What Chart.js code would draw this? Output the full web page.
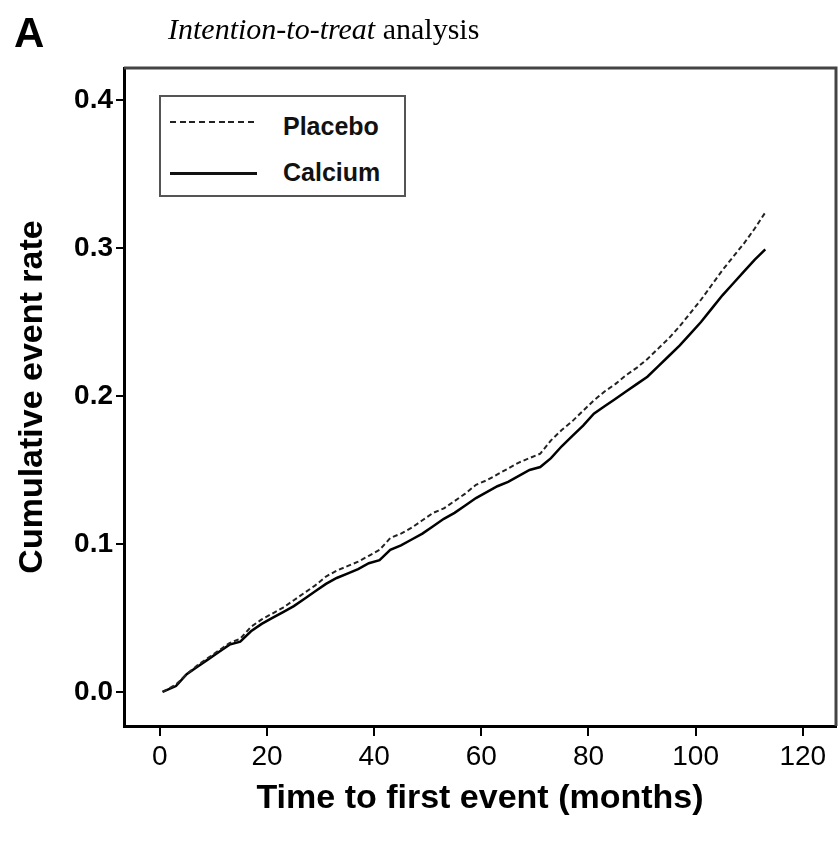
<!DOCTYPE html>
<html>
<head>
<meta charset="utf-8">
<script src="https://cdn.jsdelivr.net/npm/chart.js@4.4.0/dist/chart.umd.min.js"></script>
<style>
    html, body { margin: 0; padding: 0; background: #fff; }
    #wrap { position: relative; width: 838px; height: 843px; }
    #panel { position: absolute; left: 14px; top: 9px; font: bold 42px "Liberation Sans", Arial, sans-serif; color: #000; }
    #title { position: absolute; left: 168px; top: 12px; font: 30px "Liberation Serif", "Times New Roman", serif; color: #000; white-space: nowrap; }
    #legend { position: absolute; left: 159px; top: 95px; width: 243px; height: 98px; border: 2px solid #555; background: #fff; }
    #legend .swatch { position: absolute; left: 9px; width: 87px; }
    #legend .dash { height: 2px; background: repeating-linear-gradient(to right, #222 0 6px, transparent 6px 9.7px); }
    #legend .solid { height: 3px; background: #111; }
    #legend .lbl { position: absolute; left: 122px; height: 30px; line-height: 30px; font: bold 25px "Liberation Sans", Arial, sans-serif; color: #111; }
</style>
</head>
<body>
<div id="wrap">
    <canvas id="chart" width="838" height="843"></canvas>
    <div id="panel">A</div>
    <div id="title"><i>Intention-to-treat</i> analysis</div>
    <div id="legend">
        <div class="swatch dash" style="top:24px"></div>
        <div class="lbl" style="top:15px">Placebo</div>
        <div class="swatch solid" style="top:75px"></div>
        <div class="lbl" style="top:61px">Calcium</div>
    </div>
</div>
<script>
// months of follow-up
const months = [0.5, 3, 5, 7, 9, 11, 13, 15, 17, 19, 21, 23, 25, 27, 29, 31, 33, 35, 37, 39,
    41, 43, 45, 47, 49, 51, 53, 55, 57, 59, 61, 63, 65, 67, 69, 71, 73, 75, 77, 79,
    81, 83, 85, 87, 89, 91, 93, 95, 97, 99, 101, 103, 105, 107, 109, 111, 113];

// cumulative event rate
const placebo = [0.000, 0.005, 0.012, 0.018, 0.023, 0.028, 0.033, 0.036, 0.044, 0.049,
    0.053, 0.057, 0.062, 0.067, 0.072, 0.078, 0.082, 0.085, 0.088, 0.092,
    0.096, 0.104, 0.107, 0.111, 0.116, 0.121, 0.124, 0.129, 0.134, 0.140,
    0.143, 0.147, 0.151, 0.155, 0.158, 0.161, 0.170, 0.177, 0.183, 0.190,
    0.197, 0.203, 0.208, 0.214, 0.219, 0.225, 0.232, 0.239, 0.247, 0.256,
    0.265, 0.275, 0.285, 0.294, 0.303, 0.313, 0.324];

const calcium = [0.000, 0.004, 0.012, 0.017, 0.022, 0.027, 0.032, 0.034, 0.041, 0.046,
    0.050, 0.054, 0.058, 0.063, 0.068, 0.073, 0.077, 0.080, 0.083, 0.087,
    0.089, 0.096, 0.099, 0.103, 0.107, 0.112, 0.117, 0.121, 0.126, 0.131,
    0.135, 0.139, 0.142, 0.146, 0.150, 0.152, 0.158, 0.166, 0.173, 0.180,
    0.188, 0.193, 0.198, 0.203, 0.208, 0.213, 0.220, 0.227, 0.234, 0.242,
    0.250, 0.259, 0.268, 0.276, 0.284, 0.292, 0.299];

const xTicks = [0, 20, 40, 60, 80, 100, 120];
const yTicks = [0, 0.1, 0.2, 0.3, 0.4];

const sans = '"Liberation Sans", Arial, sans-serif';

// box round the plot (top and right sides)
const frame = {
    id: 'frame',
    beforeDatasetsDraw(chart) {
        const { ctx, chartArea: a } = chart;
        ctx.save();
        ctx.strokeStyle = '#444';
        ctx.lineWidth = 3;
        ctx.beginPath();
        ctx.moveTo(a.left, a.top);
        ctx.lineTo(a.right, a.top);
        ctx.lineTo(a.right, a.bottom);
        ctx.stroke();
        ctx.restore();
    }
};

const toPoints = arr => months.map((m, i) => ({ x: m, y: arr[i] }));

new Chart(document.getElementById('chart'), {
    type: 'line',
    data: {
        datasets: [
            { label: 'Placebo', data: toPoints(placebo), borderColor: '#222', borderWidth: 2, borderDash: [5, 3], tension: 0, pointRadius: 0, fill: false },
            { label: 'Calcium', data: toPoints(calcium), borderColor: '#000', borderWidth: 2.5, tension: 0, pointRadius: 0, fill: false }
        ]
    },
    options: {
        responsive: false,
        animation: false,
        layout: { padding: { top: 68, right: 2, left: 0, bottom: 0 } },
        plugins: { legend: { display: false }, tooltip: { enabled: false } },
        scales: {
            x: {
                type: 'linear', min: -6.7, max: 126.2,
                afterBuildTicks: s => { s.ticks = xTicks.map(v => ({ value: v })); },
                afterFit: s => { s.height = 117; },
                grid: { drawOnChartArea: false, tickLength: 10, color: '#000', lineWidth: 2 },
                border: { color: '#000', width: 3 },
                ticks: { color: '#000', font: { size: 28, family: sans }, padding: 4, maxRotation: 0, callback: v => v },
                title: { display: true, text: 'Time to first event (months)', color: '#000', font: { size: 34, weight: 'bold', family: sans }, padding: { top: 0, bottom: 24 } }
            },
            y: {
                min: -0.023, max: 0.4216,
                afterBuildTicks: s => { s.ticks = yTicks.map(v => ({ value: v })); },
                afterFit: s => { s.width = 124; },
                grid: { drawOnChartArea: false, tickLength: 8, color: '#000', lineWidth: 2 },
                border: { color: '#000', width: 3 },
                ticks: { color: '#000', font: { size: 28, weight: 'bold', family: sans }, padding: 3, callback: v => v.toFixed(1) },
                title: { display: true, text: 'Cumulative event rate', color: '#000', font: { size: 34, weight: 'bold', family: sans }, padding: { top: 12, bottom: 0 } }
            }
        }
    },
    plugins: [frame]
});
</script>
</body>
</html>
